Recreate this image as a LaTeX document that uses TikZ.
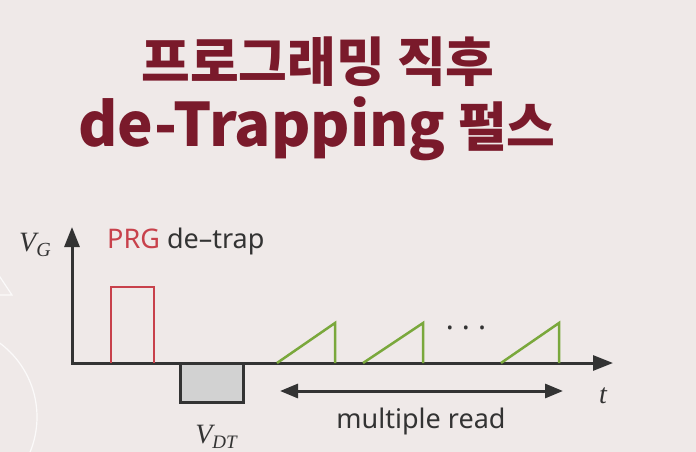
\documentclass[tikz,border=0pt]{standalone}
\usepackage{fontspec}
\setmainfont{Liberation Serif}
\newfontfamily\krfont{Noto Sans CJK KR}
\newfontfamily\labelfont{Noto Sans}
\usetikzlibrary{arrows.meta}

\definecolor{bgcol}{HTML}{EFE9E8}
\definecolor{titlered}{HTML}{7A1A2B}
\definecolor{prgred}{HTML}{C8414B}
\definecolor{axisgray}{HTML}{333333}
\definecolor{readgreen}{HTML}{7AA83C}
\definecolor{trapgray}{HTML}{D2D2D2}

\tikzset{
    titletext/.style={text=titlered, font=\krfont\bfseries\fontsize{53}{53}\selectfont, inner sep=0pt},
    axistext/.style={text=axisgray, font=\labelfont\fontsize{27}{27}\selectfont, inner sep=0pt},
    vartext/.style={text=axisgray, font=\itshape\fontsize{28}{28}\selectfont, inner sep=0pt},
    axisline/.style={line width=3pt, draw=axisgray, line join=miter},
    bigtip/.tip={Triangle[length=20pt, width=15pt]},
}

\begin{document}
\begin{tikzpicture}[x=1pt, y=-1pt]
    \fill[bgcol] (0,0) rectangle (696,452);
    \useasboundingbox (0,0) rectangle (696,452);
    % faint decorations on the left edge
    \begin{scope}
        \clip (0,0) rectangle (696,452);
        \draw[white, line width=1.2pt, opacity=0.8] (-8,265) -- (12,295) -- (-8,295);
        \draw[white, line width=1.2pt, opacity=0.8] (-55,417) circle (92);
    \end{scope}

    % title
    \node[titletext] (title1) at (318,62) {프로그래밍 직후};
    \node[titletext, anchor=base] (title2) at (317,146) {{\fontsize{60}{60}\selectfont de-Trapping} 펄스};

    % axes
    \coordinate (O) at (72,363);
    \coordinate (ytip) at (72,227);
    \coordinate (xtip) at (613,363);
    \draw[axisline, bigtip-bigtip] (ytip) -- (O) -- (xtip);

    % programming pulse and de-trap pulse
    \draw[prgred, line width=2.5pt] (111,363) -- (111,287) -- (154,287) -- (154,363);
    \filldraw[fill=trapgray, axisline] (180,363) rectangle (243,402);

    % read ramps
    \foreach \a/\b in {277/335, 363/423, 501/559} {
        \draw[readgreen, line width=2.5pt, line join=miter] (\a,363) -- (\b,323) -- (\b,363);
    };
    \node[axistext, font=\labelfont\fontsize{30}{30}\selectfont] (dots) at (466,332) {·\hspace{8pt}·\hspace{8pt}·};

    % read window
    \coordinate (readL) at (280,391);
    \coordinate (readR) at (563,391);
    \draw[axisline, {Triangle[length=18pt, width=14pt]}-{Triangle[length=18pt, width=14pt]}] (readL) -- (readR);

    % labels
    \node[vartext] (vg) at (35,245) {V\raisebox{-0.35ex}{\fontsize{20}{20}\selectfont G}};
    \node[vartext] (vdt) at (216,437) {V\raisebox{-0.35ex}{\fontsize{19}{19}\selectfont DT}};
    \node[vartext] (tlab) at (603,396) {t};
    \node[axistext, anchor=base west] (prg) at (107,248) {\textcolor{prgred}{PRG} de–trap};
    \node[axistext] (mread) at (421,421) {multiple read};
\end{tikzpicture}
\end{document}
